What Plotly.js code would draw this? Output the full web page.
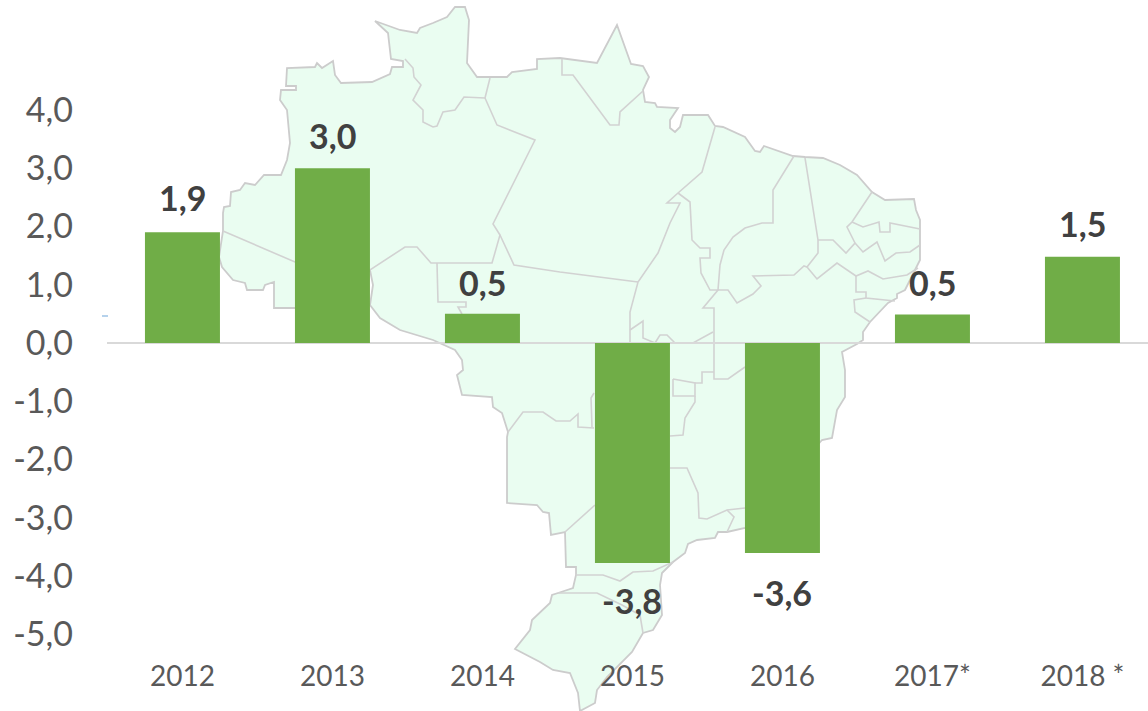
<!DOCTYPE html>
<html><head><meta charset="utf-8">
<script src="https://cdn.plot.ly/plotly-3.0.1.min.js"></script>
<style>html,body{margin:0;padding:0;background:#fff}</style></head>
<body><div id="chart" style="width:1148px;height:711px"></div>
<script>
const categories=['2012','2013','2014','2015','2016','2017*','2018 *'];
const values=[1.9,3.0,0.5,-3.78,-3.61,0.49,1.48];
const labels=['1,9','3,0','0,5','-3,8','-3,6','0,5','1,5'];
const labelShift=[35,33,31,-37,-39,32,33];
const yTicks=[-5,-4,-3,-2,-1,0,1,2,3,4];
const yTickText=['-5,0','-4,0','-3,0','-2,0','-1,0','0,0','1,0','2,0','3,0','4,0'];

// Brazil backdrop, in picture pixels
const mapOutline=[[223,231],[223,213],[224,207],[230,206],[231,192],[240,190],[245,183],[255,185],[264,175],[281,175],[287,160],[290,143],[287,110],[280,100],[281,90],[296,90],[296,86],[286,86],[287,68],[315,67],[317,63],[322,68],[333,61],[335,75],[341,83],[372,82],[390,74],[392,67],[403,67],[403,61],[391,59],[388,33],[375,21],[400,30],[417,33],[420,28],[433,23],[447,17],[455,7],[465,7],[469,20],[467,63],[477,77],[507,77],[512,72],[537,69],[537,59],[560,58],[597,63],[617,25],[631,64],[643,66],[649,77],[643,90],[645,102],[655,103],[657,107],[678,108],[670,120],[670,128],[675,132],[680,127],[683,115],[708,115],[715,126],[723,127],[745,137],[755,151],[760,152],[764,146],[793,156],[805,157],[823,158],[840,165],[857,175],[872,192],[885,200],[914,199],[916,210],[920,220],[920,260],[905,290],[897,294],[897,298],[888,303],[870,322],[863,332],[863,340],[857,344],[842,352],[845,370],[845,397],[837,410],[832,438],[822,440],[745,528],[727,532],[718,532],[715,538],[697,540],[688,544],[685,553],[673,562],[662,573],[660,585],[662,615],[653,630],[643,633],[632,652],[607,677],[597,690],[595,703],[580,711],[578,693],[570,673],[553,670],[540,662],[515,649],[530,630],[532,620],[550,603],[552,595],[558,593],[573,588],[576,575],[576,567],[566,567],[565,532],[551,535],[549,513],[543,512],[537,505],[507,503],[507,437],[508,432],[502,413],[493,407],[492,397],[462,395],[457,375],[463,370],[462,360],[455,350],[433,340],[400,330],[380,318],[370,305],[373,285],[370,270],[295,308],[274,308],[274,282],[265,285],[263,290],[247,290],[245,283],[233,280],[222,267],[219,257]];
const mapBorders=[
[[223,231],[295,262],[370,270],[405,247],[417,247],[431,263],[492,263],[500,235],[493,224],[535,140],[497,125],[485,98],[490,78]],
[[405,59],[413,68],[414,77],[421,85],[413,100],[423,110],[423,122],[433,127],[437,126],[443,112],[455,110],[464,97],[485,98]],
[[437,263],[438,302],[466,302],[466,307],[458,307],[462,314]],
[[500,235],[514,265],[560,272],[638,282]],
[[562,59],[562,75],[573,75],[610,125],[619,125],[620,112],[643,91]],
[[715,127],[702,172],[678,193],[667,203],[680,203],[670,223],[658,253],[638,282],[630,312],[630,343]],
[[678,193],[690,202],[692,240],[700,248],[710,248],[710,258],[700,258],[701,273],[710,290],[718,290],[703,308],[714,308],[714,379],[728,379],[745,367]],
[[794,156],[773,190],[773,223],[762,223],[745,228],[733,237],[724,250],[720,265],[718,290],[728,290],[737,303],[753,294],[761,286],[753,276],[794,275],[804,266],[807,267],[818,253],[818,240],[805,158]],
[[818,240],[833,240],[846,253],[855,243],[847,227],[852,222],[872,192]],
[[852,222],[863,227],[879,222],[880,232],[890,232],[890,223],[920,229]],
[[855,243],[863,252],[877,242],[885,261],[896,253],[910,252],[920,245]],
[[807,267],[817,279],[837,263],[856,276],[868,271],[883,279],[907,275],[918,268]],
[[856,276],[856,292],[866,292],[866,298],[895,301]],
[[866,298],[854,300],[855,312],[870,322]],
[[630,330],[643,321],[643,338],[655,343],[660,335],[667,335],[675,343],[693,343],[713,332]],
[[673,379],[695,383],[695,396],[673,396],[673,379]],
[[695,383],[702,383],[702,372],[714,372]],
[[695,396],[695,402],[685,418],[683,435],[670,436]],
[[670,468],[687,468],[698,493],[699,518],[707,519],[727,510],[745,508]],
[[727,510],[734,517],[727,532]],
[[508,432],[523,412],[543,412],[556,421],[570,421],[578,414],[578,427],[594,428]],
[[594,393],[591,398],[592,427]],
[[565,532],[595,505]],
[[576,575],[603,575],[620,581],[633,572],[653,571],[673,562]],
[[558,593],[597,593],[622,605],[640,615],[643,633]]
];
const stray=[[102,316],[108,316]];

const W=1148,H=711,mL=107,mB=56;
const PW=W-mL,PH=H-mB;
const toPath=(pts,close)=>pts.map((p,i)=>(i?'L':'M')+((p[0]-mL)/PW).toFixed(5)+','+((PH-p[1])/PH).toFixed(5)).join(' ')+(close?' Z':'');
const shapes=[
 {type:'path',xref:'paper',yref:'paper',layer:'below',path:toPath(mapOutline,true),fillcolor:'#EAFDF1',line:{color:'#CCCCCC',width:1.8}},
 ...mapBorders.map(b=>({type:'path',xref:'paper',yref:'paper',layer:'below',path:toPath(b,false),line:{color:'#D2D2D2',width:1.6}})),
 {type:'path',xref:'paper',yref:'paper',layer:'below',path:toPath(stray,false),line:{color:'#9DC3E6',width:1.5}}
];
const annotations=categories.map((c,i)=>({x:i,y:values[i],xref:'x',yref:'y',text:'<b>'+labels[i]+'</b>',showarrow:false,xanchor:'center',yanchor:'middle',yshift:labelShift[i],font:{family:'Lato',size:34,color:'#404040'}}));

Plotly.newPlot('chart',[{type:'bar',x:[0,1,2,3,4,5,6],y:values,width:0.5,marker:{color:'#70AD47'},hoverinfo:'skip'}],{
 width:W,height:H,margin:{l:mL,r:0,t:0,b:mB},paper_bgcolor:'#fff',plot_bgcolor:'rgba(0,0,0,0)',showlegend:false,
 xaxis:{range:[-0.503,6.437],tickmode:'array',tickvals:[0,1,2,3,4,5,6],ticktext:categories,showgrid:false,zeroline:false,showline:false,ticks:'',ticklabelstandoff:2,tickfont:{family:'Lato',size:28,color:'#595959'}},
 yaxis:{range:[-5.36,5.89],tickmode:'array',tickvals:yTicks,ticktext:yTickText,showgrid:false,zeroline:true,zerolinecolor:'#D9D9D9',zerolinewidth:2,showline:false,ticks:'',ticklabelstandoff:33,tickfont:{family:'Lato',size:34,color:'#595959'}},
 shapes,annotations
},{displayModeBar:false,staticPlot:true});
</script></body></html>
